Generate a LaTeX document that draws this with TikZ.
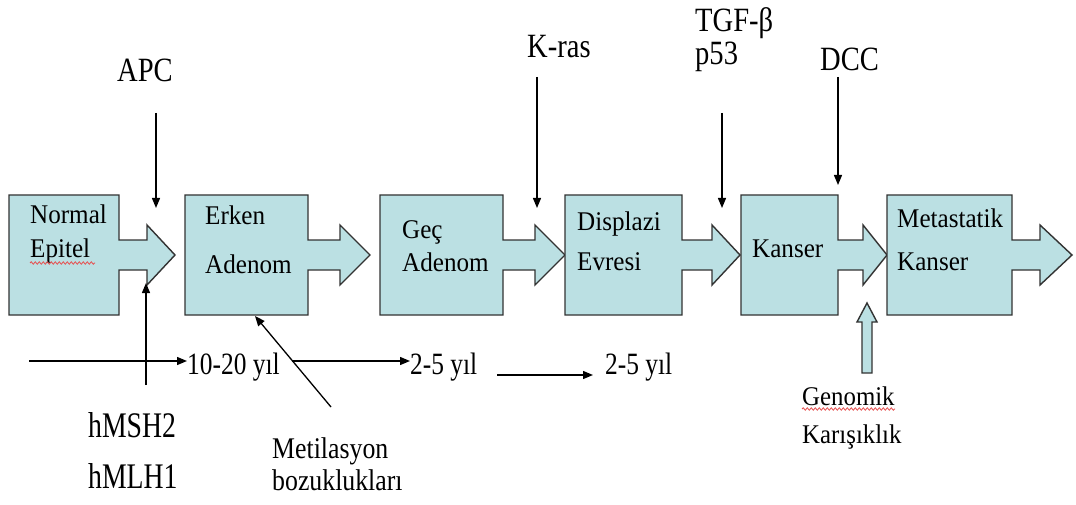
\documentclass[tikz,border=0pt]{standalone}
\usepackage{graphicx}
\usepackage{fontspec}
\setmainfont{Liberation Serif}
\usetikzlibrary{arrows.meta,decorations.pathmorphing}
\definecolor{boxfill}{RGB}{187,224,227}
\definecolor{squig}{RGB}{230,80,80}
\newcommand\sqz[2]{\scalebox{#1}[1]{#2}}
\newcommand\stagebox[4]{%
  \draw[stage] (#1,195) -- (#2,195) -- (#2,240) -- (#3,240) -- (#3,225) -- (#4,255)
    -- (#3,285) -- (#3,270) -- (#2,270) -- (#2,315) -- (#1,315) -- cycle;}
\tikzset{
  stage/.style={draw=black!80, line width=1.4pt, fill=boxfill, line join=miter},
  arr/.style={-{Triangle[length=10pt,width=8pt]}, line width=1.3pt},
  txt/.style={inner sep=0pt, anchor=base west},
  boxtxt/.style={txt, font=\fontsize{27}{27}\selectfont},
  toplbl/.style={txt, font=\fontsize{34}{34}\selectfont},
  yrlbl/.style={txt, font=\fontsize{31}{31}\selectfont},
  genelbl/.style={txt, font=\fontsize{36}{36}\selectfont},
  metlbl/.style={txt, font=\fontsize{30}{30}\selectfont},
  genlbl/.style={txt, font=\fontsize{27}{27}\selectfont},
  wavy/.style={draw=squig, line width=0.8pt, decorate, decoration={snake, amplitude=1.2pt, segment length=4pt}}
}
\begin{document}
\begin{tikzpicture}[x=1pt,y=-1pt]
\useasboundingbox (0,0) rectangle (1076,505);
\fill[white] (0,0) rectangle (1076,505);
% stage boxes with block arrows
\stagebox{9}{119}{147}{175}
\stagebox{185}{308}{340}{370}
\stagebox{380}{503}{535}{565}
\stagebox{565}{682}{712}{740}
\stagebox{741}{838}{863}{887}
\stagebox{887}{1012}{1040}{1072}
% box texts
\node[boxtxt] (normal) at (30,223) {\sqz{0.93}{Normal}};
\node[boxtxt] (epitel) at (30,258) {\sqz{0.93}{Epitel}};
\node[boxtxt] (erken) at (205,225) {\sqz{0.93}{Erken}};
\node[boxtxt] (adenom1) at (205,273) {\sqz{0.93}{Adenom}};
\node[boxtxt] (gec) at (402,238) {\sqz{0.93}{Geç}};
\node[boxtxt] (adenom2) at (402,271) {\sqz{0.93}{Adenom}};
\node[boxtxt] (displazi) at (577,230) {\sqz{0.93}{Displazi}};
\node[boxtxt] (evresi) at (577,270) {\sqz{0.93}{Evresi}};
\node[boxtxt] (kanser) at (752,257) {\sqz{0.93}{Kanser}};
\node[boxtxt] (metastatik) at (897,228) {\sqz{0.93}{Metastatik}};
\node[boxtxt] (kanser2) at (897,270) {\sqz{0.93}{Kanser}};
\draw[wavy] (30,263) -- (95,263);
% top labels
\node[toplbl] (apc) at (117,82) {\sqz{0.84}{APC}};
\node[toplbl] (kras) at (527,58) {\sqz{0.84}{K-ras}};
\node[toplbl] (tgf) at (695,32) {\sqz{0.84}{TGF-β}};
\node[toplbl] (p53) at (695,65) {\sqz{0.84}{p53}};
\node[toplbl] (dcc) at (820,71) {\sqz{0.84}{DCC}};
\coordinate (apcA) at (156,113); \coordinate (apcB) at (156,208);
\coordinate (krasA) at (537,77); \coordinate (krasB) at (537,208);
\coordinate (tgfA) at (722,113); \coordinate (tgfB) at (722,208);
\coordinate (dccA) at (838,77); \coordinate (dccB) at (838,185);
\draw[arr] (apcA) -- (apcB);
\draw[arr] (krasA) -- (krasB);
\draw[arr] (tgfA) -- (tgfB);
\draw[arr] (dccA) -- (dccB);
% bottom: time line
\node[yrlbl] (y1) at (187,374) {\sqz{0.82}{10-20 yıl}};
\node[yrlbl] (y2) at (410,374) {\sqz{0.82}{2-5 yıl}};
\node[yrlbl] (y3) at (605,374) {\sqz{0.82}{2-5 yıl}};
\coordinate (t0) at (29,361);
\coordinate (t1) at (292,361);
\coordinate (t2) at (497,375);
\coordinate (t3) at (593,375);
\draw[arr] (t0) -- (y1.west |- t0);
\draw[arr] (t1) -- (y2.west |- t1);
\draw[arr] (t2) -- (t3);
% hMSH2 / hMLH1
\node[genelbl] (hmsh) at (88,437) {\sqz{0.77}{hMSH2}};
\node[genelbl] (hmlh) at (88,488) {\sqz{0.77}{hMLH1}};
\coordinate (mA) at (146,385); \coordinate (mB) at (146,283);
\draw[arr] (mA) -- (mB);
% Metilasyon
\node[metlbl] (met) at (272,458) {\sqz{0.86}{Metilasyon}};
\node[metlbl] (boz) at (272,490) {\sqz{0.86}{bozuklukları}};
\coordinate (metA) at (331,407); \coordinate (metB) at (255,316);
\draw[arr] (metA) -- (metB);
% Genomik karisiklik
\node[genlbl] (genomik) at (802,405) {\sqz{0.92}{Genomik}};
\node[genlbl] (karis) at (802,443) {\sqz{0.92}{Karışıklık}};
\draw[wavy] (802,409) -- (895,409);
\draw[stage] (862,373) -- (872,373) -- (872,322) -- (877,322) -- (867,303) -- (857,322) -- (862,322) -- cycle;
\end{tikzpicture}
\end{document}
